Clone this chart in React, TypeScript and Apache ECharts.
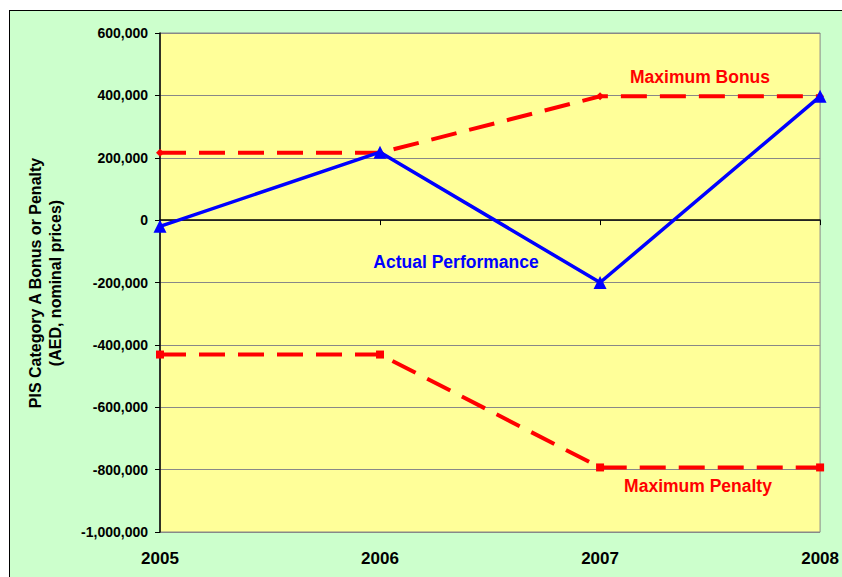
import React, { useEffect, useRef } from "react";
import * as echarts from "echarts";

const years = [2005, 2006, 2007, 2008];
const maxBonus = [216000, 216000, 397000, 397000];
const actual = [-20000, 218000, -200000, 397000];
const maxPenalty = [-431000, -431000, -793000, -793000];
const yTicks = { min: -1000000, max: 600000, interval: 200000 };

const FONT = "Arial, 'Liberation Sans', sans-serif";

export default function App() {
  const ref = useRef<HTMLDivElement>(null);
  useEffect(() => {
    if (!ref.current) return;
    const chart = echarts.init(ref.current, undefined, { renderer: "svg" });
    const pair = (vals: number[]) => years.map((y, i) => [y, vals[i]]);
    chart.setOption({
      animation: false,
      backgroundColor: "transparent",
      textStyle: { fontFamily: FONT },
      grid: {
        left: 160,
        top: 33,
        right: 21,
        bottom: 45,
        show: true,
        backgroundColor: "#FFFF99",
        borderColor: "#888888",
        borderWidth: 1,
      },
      xAxis: {
        type: "value",
        min: 2005,
        max: 2008,
        interval: 1,
        splitLine: { show: false },
        axisLine: { show: true, lineStyle: { color: "#000", width: 1.5 } },
        axisTick: { show: true, length: 5, lineStyle: { color: "#000" } },
        axisLabel: {
          formatter: (v: number) => String(v),
          color: "#000",
          fontWeight: "bold",
          fontSize: 17,
          fontFamily: FONT,
          margin: 18,
        },
      },
      yAxis: {
        type: "value",
        min: yTicks.min,
        max: yTicks.max,
        interval: yTicks.interval,
        axisLine: { show: true, lineStyle: { color: "#000", width: 1.5 } },
        axisTick: { show: true, length: 5, lineStyle: { color: "#000" } },
        splitLine: { show: true, lineStyle: { color: "#888888", width: 1 } },
        axisLabel: {
          color: "#000",
          fontWeight: "bold",
          fontSize: 14,
          fontFamily: FONT,
          margin: 12,
        },
      },
      graphic: [
        {
          type: "text",
          x: 45,
          y: 283,
          rotation: Math.PI / 2,
          style: {
            text: "PIS Category A Bonus or Penalty\n(AED, nominal prices)",
            fontFamily: FONT,
            fontWeight: "bold",
            fontSize: 16,
            lineHeight: 20,
            fill: "#000",
            align: "center",
            verticalAlign: "middle",
          },
        },
        {
          type: "text",
          x: 700,
          y: 77,
          style: {
            text: "Maximum Bonus",
            fontFamily: FONT,
            fontWeight: "bold",
            fontSize: 17.5,
            fill: "#FF0000",
            align: "center",
            verticalAlign: "middle",
          },
        },
        {
          type: "text",
          x: 698,
          y: 486,
          style: {
            text: "Maximum Penalty",
            fontFamily: FONT,
            fontWeight: "bold",
            fontSize: 17.5,
            fill: "#FF0000",
            align: "center",
            verticalAlign: "middle",
          },
        },
        {
          type: "text",
          x: 456,
          y: 262,
          style: {
            text: "Actual Performance",
            fontFamily: FONT,
            fontWeight: "bold",
            fontSize: 17.5,
            fill: "#0000FF",
            align: "center",
            verticalAlign: "middle",
          },
        },
      ],
      series: [
        {
          name: "Maximum Bonus",
          type: "line",
          data: pair(maxBonus),
          symbol: "diamond",
          symbolSize: 8,
          itemStyle: { color: "#FF0000" },
          lineStyle: { color: "#FF0000", width: 4, type: [26, 13] },
          z: 2,
        },
        {
          name: "Maximum Penalty",
          type: "line",
          data: pair(maxPenalty),
          symbol: "rect",
          symbolSize: 8,
          itemStyle: { color: "#FF0000" },
          lineStyle: { color: "#FF0000", width: 4, type: [26, 13] },
          z: 2,
        },
        {
          name: "Actual Performance",
          type: "line",
          data: pair(actual),
          symbol: "triangle",
          symbolSize: 13,
          itemStyle: { color: "#0000FF" },
          lineStyle: { color: "#0000FF", width: 3.5 },
          z: 3,
        },
      ],
    });
    return () => chart.dispose();
  }, []);

  return (
    <div
      style={{
        position: "fixed",
        left: 0,
        top: 0,
        width: 842,
        height: 577,
        overflow: "hidden",
        background: "#FFFFFF",
      }}
    >
      <div
        style={{
          position: "absolute",
          left: 9,
          top: 10,
          width: 900,
          height: 700,
          border: "1.5px solid #000",
          background: "#CCFFCC",
        }}
      />
      <div
        ref={ref}
        style={{ position: "absolute", left: 0, top: 0, width: 842, height: 577 }}
      />
    </div>
  );
}
